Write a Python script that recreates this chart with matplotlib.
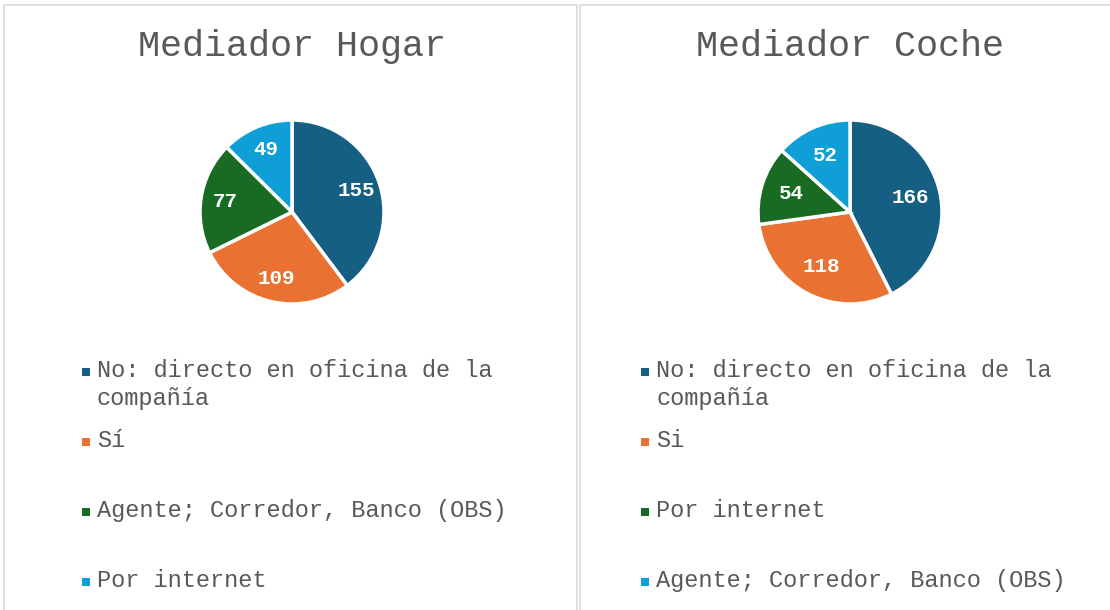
import matplotlib
matplotlib.use("Agg")
import matplotlib.pyplot as plt
from matplotlib.patches import Rectangle

# data
titles = ["Mediador Hogar", "Mediador Coche"]
hogar_labels = ["No: directo en oficina de la\ncompañía", "Sí",
                "Agente; Corredor, Banco (OBS)", "Por internet"]
hogar_values = [155, 109, 77, 49]
coche_labels = ["No: directo en oficina de la\ncompañía", "Si",
                "Por internet", "Agente; Corredor, Banco (OBS)"]
coche_values = [166, 118, 54, 52]
colors = ["#156082", "#E97132", "#196B24", "#0F9ED5"]

W, H = 1110, 610
FONT = "Liberation Mono"
TEXT_GREY = "#595959"

fig = plt.figure(figsize=(W / 100, H / 100), dpi=100)
fig.patch.set_facecolor("white")


def fx(px):
    return px / W


def fy(py):
    return 1 - py / H


# panel frames
for x0, x1 in [(4, 577), (580, 1115)]:
    fig.patches.append(Rectangle((fx(x0), fy(H + 5)), fx(x1 - x0), 1,
                                 transform=fig.transFigure, fill=False,
                                 edgecolor="#D9D9D9", linewidth=1.2))

panels = [(hogar_labels, hogar_values, 0.74), (coche_labels, coche_values, 0.67)]
for k, (labels, values, ldist) in enumerate(panels):
    cx = 292 + 558 * k
    cy = 212
    r = 92

    fig.text(fx(cx), fy(46), titles[k], ha="center", va="center",
             fontsize=26.5, color=TEXT_GREY, family=FONT)

    ax = fig.add_axes([fx(cx - r), fy(cy + r), fx(2 * r), 2 * r / H])
    wedges, texts = ax.pie(values, colors=colors, startangle=90, counterclock=False,
                           radius=1, labels=[str(v) for v in values],
                           labeldistance=ldist,
                           wedgeprops={"linewidth": 2.5, "edgecolor": "white"},
                           textprops={"fontsize": 15, "color": "white",
                                      "fontweight": "bold", "family": FONT})
    for t in texts:
        t.set_ha("center")
        t.set_va("center")
    for w in wedges:
        w.set_clip_on(False)
    ax.set_xlim(-1, 1)
    ax.set_ylim(-1, 1)
    ax.set_aspect("equal")
    ax.axis("off")

    # legend
    lx = 86 + 559 * k
    for i, (lab, col) in enumerate(zip(labels, colors)):
        ly = 372 + 70 * i
        fig.patches.append(Rectangle((fx(lx - 4), fy(ly + 4)), fx(8), 8 / H,
                                     transform=fig.transFigure,
                                     facecolor=col, edgecolor="none"))
        fig.text(fx(lx + 11), fy(ly - 13), lab, ha="left", va="top",
                 fontsize=17, color=TEXT_GREY, family=FONT, linespacing=1.3)

fig.savefig("out.png", dpi=100, facecolor="white")
